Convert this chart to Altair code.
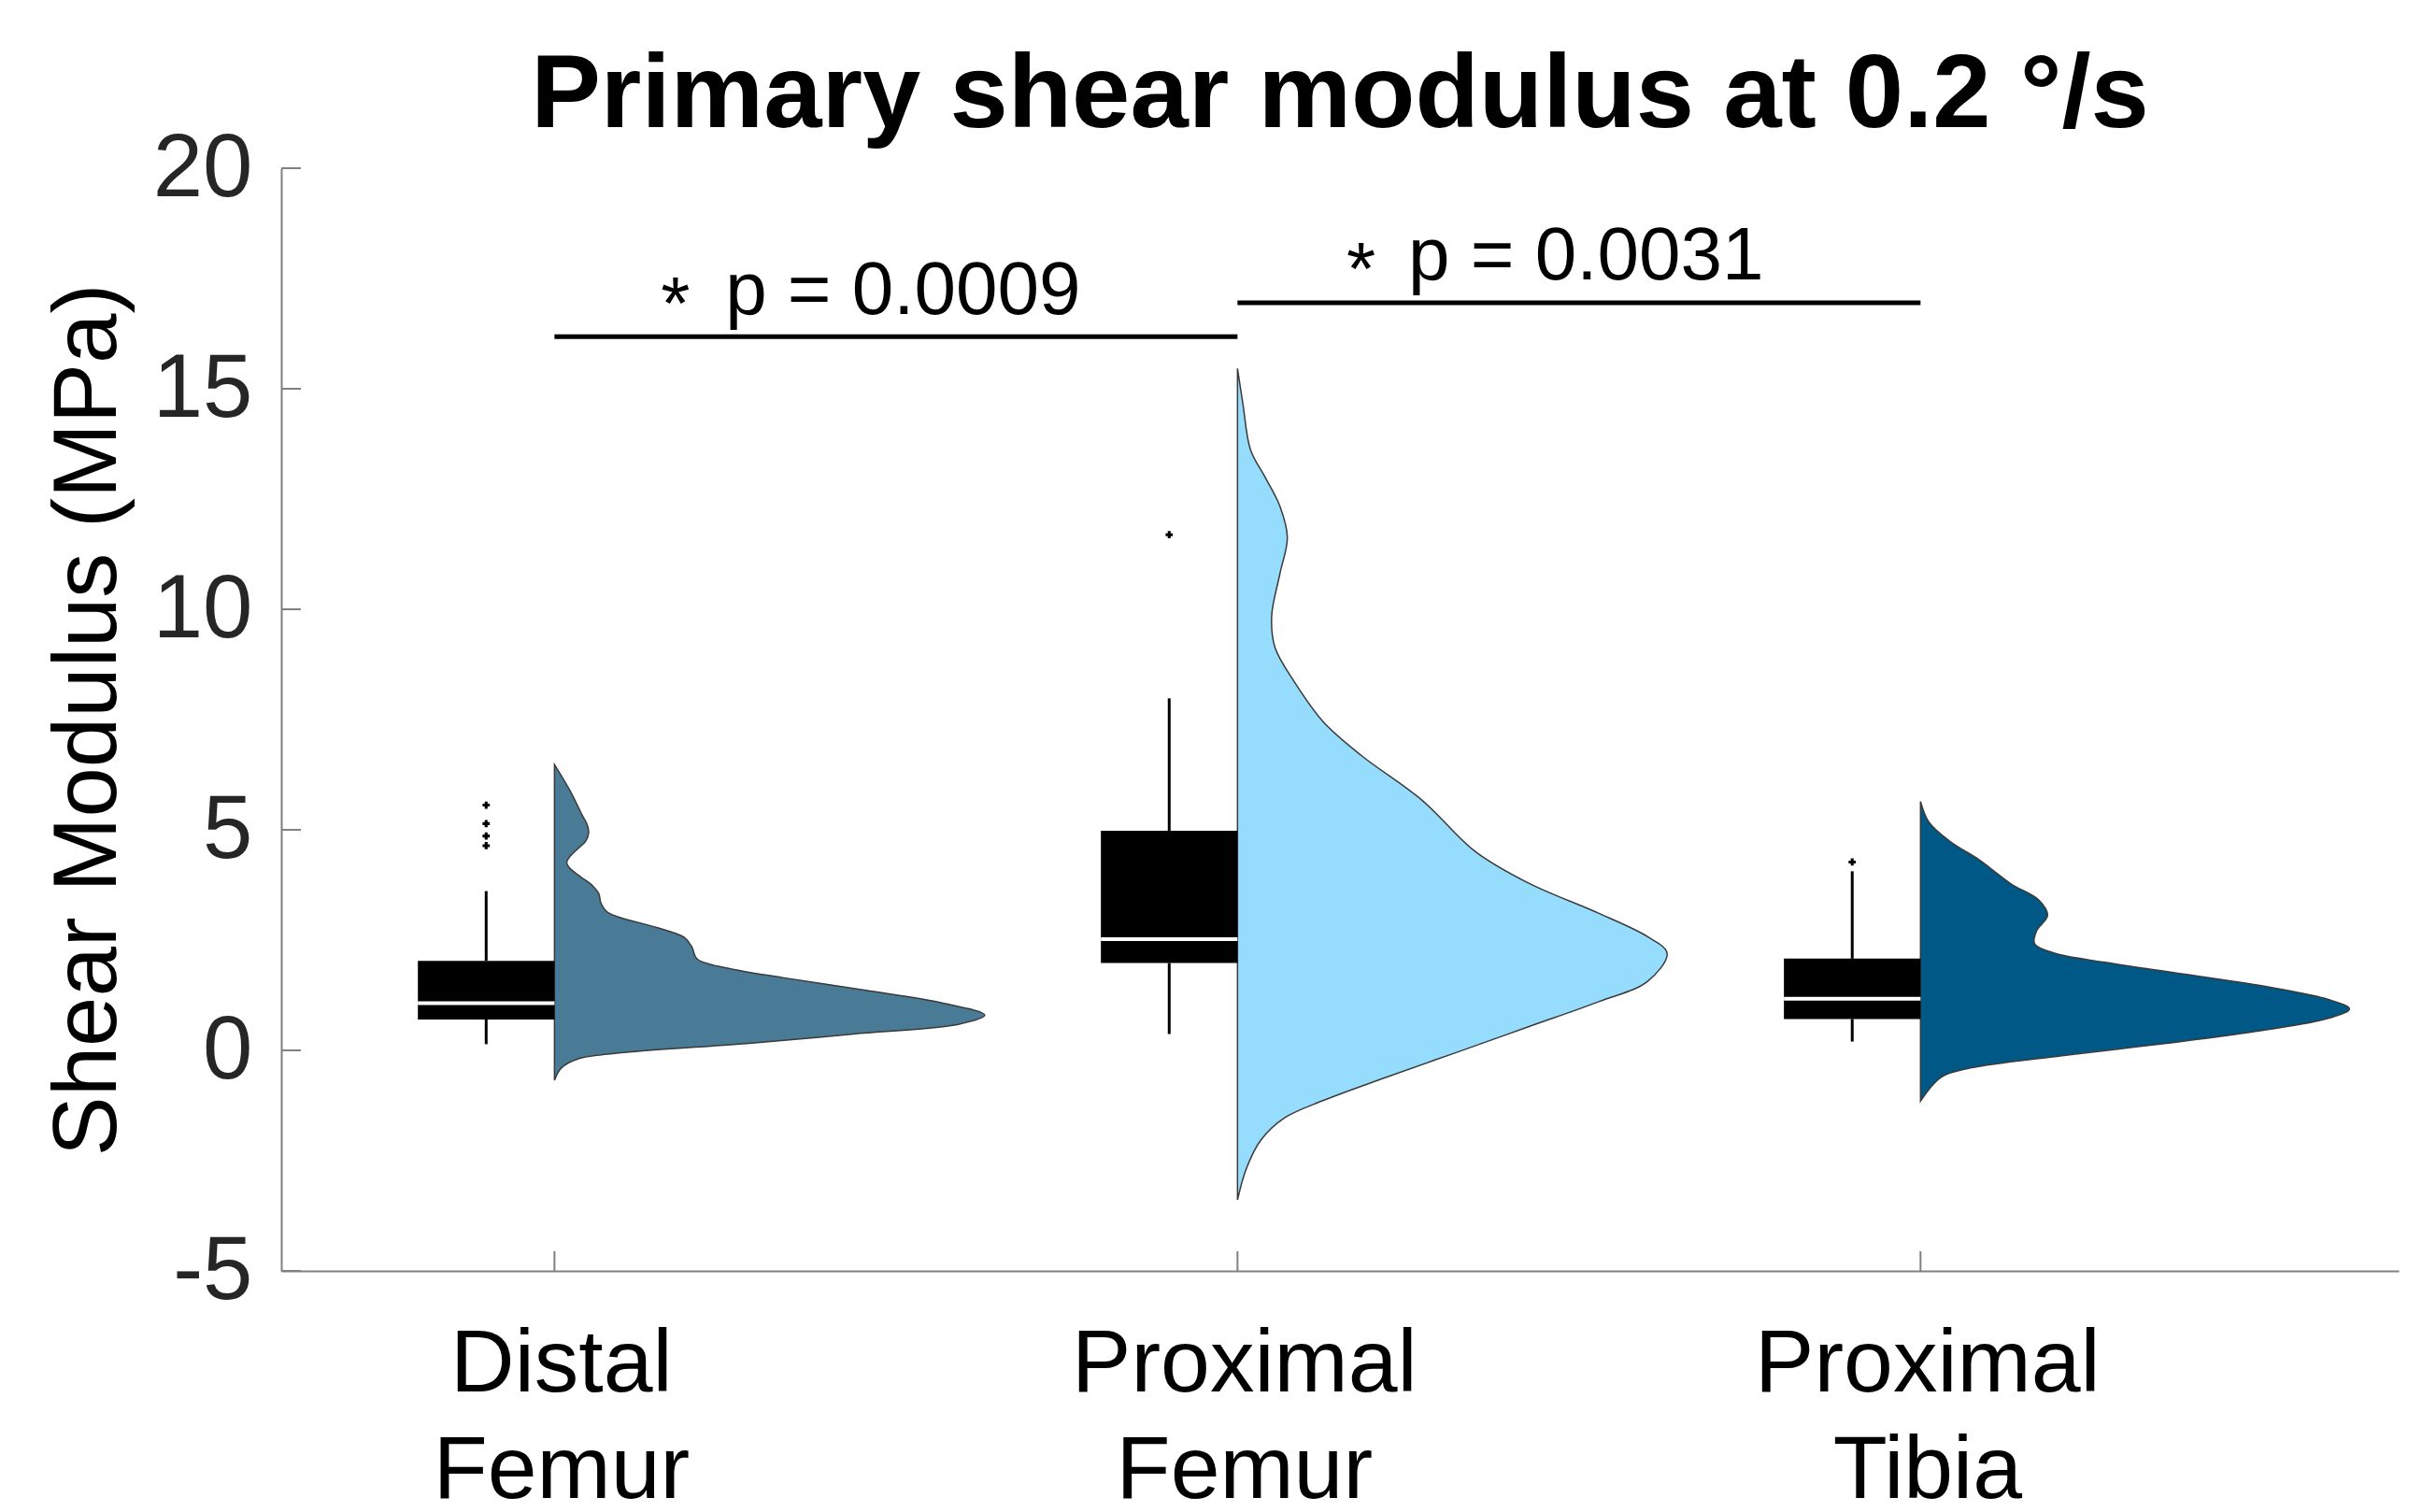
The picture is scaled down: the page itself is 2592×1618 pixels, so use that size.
import altair as alt
import pandas as pd

FONT = "Liberation Sans"

# ---------------- data ----------------
categories = ["Distal Femur", "Proximal Femur", "Proximal Tibia"]
label_lines = [["Distal", "Femur"], ["Proximal", "Femur"], ["Proximal", "Tibia"]]
positions = [1, 2, 3]
violin_colors = ["#4A7B96", "#96DCFD", "#005887"]

q1 = [0.70, 1.98, 0.71]
medians = [1.07, 2.52, 1.17]
q3 = [2.03, 4.98, 2.08]
whisker_low = [0.14, 0.37, 0.20]
whisker_high = [3.61, 7.98, 4.06]

outlier_group = ["Distal Femur", "Distal Femur", "Distal Femur", "Distal Femur",
                 "Proximal Femur", "Proximal Tibia"]
outlier_values = [5.56, 5.14, 4.86, 4.64, 11.69, 4.27]

# half-violin outlines: value (MPa) and density width (in category units)
df_values = [6.48, 5.88, 5.32, 5.11, 4.93, 4.75, 4.58, 4.40, 4.26, 4.12, 3.94, 3.73,
             3.55, 3.34, 3.13, 2.78, 2.56, 2.35, 2.07, 1.86, 1.65, 1.36, 1.08, 0.80,
             0.59, 0.37, 0.16, -0.05, -0.19, -0.40, -0.68]
df_widths = [0.0, 0.023, 0.041, 0.048, 0.050, 0.046, 0.035, 0.023, 0.018, 0.023,
             0.038, 0.056, 0.065, 0.068, 0.078, 0.151, 0.190, 0.201, 0.209, 0.255,
             0.334, 0.456, 0.566, 0.630, 0.591, 0.438, 0.285, 0.102, 0.035, 0.010, 0.0]

pf_values = [15.46, 14.65, 13.62, 12.98, 12.34, 11.63, 10.80, 9.84, 9.13, 8.36, 7.46,
             6.69, 5.66, 4.51, 3.80, 3.10, 2.58, 2.20, 1.56, 1.11, 0.53, -0.05, -0.62,
             -1.14, -1.53, -2.04, -2.68, -3.39]
pf_widths = [0.0, 0.008, 0.019, 0.041, 0.062, 0.073, 0.062, 0.050, 0.055, 0.083,
             0.125, 0.181, 0.271, 0.348, 0.425, 0.530, 0.600, 0.629, 0.600, 0.530,
             0.425, 0.320, 0.216, 0.125, 0.069, 0.034, 0.013, 0.0]

pt_values = [5.64, 5.18, 4.75, 4.33, 4.12, 3.76, 3.41, 3.06, 2.71, 2.42, 2.21, 2.00,
             1.72, 1.43, 1.15, 0.94, 0.73, 0.45, 0.16, -0.12, -0.40, -0.61, -1.15]
pt_widths = [0.0, 0.012, 0.042, 0.085, 0.103, 0.134, 0.173, 0.186, 0.170, 0.167,
             0.195, 0.268, 0.390, 0.512, 0.598, 0.628, 0.598, 0.500, 0.360, 0.207,
             0.073, 0.030, 0.0]

y_ticks = [-5, 0, 5, 10, 15, 20]

sig_from = [1, 2]
sig_to = [2, 3]
sig_level = [16.18, 16.95]
p_labels = ["p = 0.0009", "p = 0.0031"]
p_x = [1.25, 2.25]
p_y = [16.70, 17.48]
star_x = [1.177, 2.181]
star_y = [16.36, 17.14]

# ---------------- tables ----------------
BOX_W = 0.2
rows = []
for g, pos, vals, wids in zip(categories, positions,
                              [df_values, pf_values, pt_values],
                              [df_widths, pf_widths, pt_widths]):
    for v, w in zip(vals, wids):
        rows.append({"group": g, "value": v, "base": pos, "edge": pos + w})
vdf = pd.DataFrame(rows).sort_values(["group", "value"])

box = pd.DataFrame({"group": categories, "pos": positions, "q1": q1, "med": medians,
                    "q3": q3, "lo": whisker_low, "hi": whisker_high})
box["left"] = box["pos"] - BOX_W
box["wx"] = box["pos"] - BOX_W / 2

pos_map = dict(zip(categories, positions))
out = pd.DataFrame({"group": outlier_group, "value": outlier_values})
out["wx"] = out["group"].map(pos_map) - BOX_W / 2

sig = pd.DataFrame({"x1": sig_from, "x2": sig_to, "y": sig_level,
                    "label": p_labels, "px": p_x, "py": p_y, "sx": star_x, "sy": star_y})
yt = pd.DataFrame({"t": y_ticks})
xt = pd.DataFrame({"p": positions})

# ---------------- scales / axes ----------------
W, H = 2266, 1180
xscale = alt.Scale(domain=[0.6, 3.7], nice=False, zero=False)
yscale = alt.Scale(domain=[-5, 20], nice=False, zero=False)

expr = ""
for p, lines in zip(positions, label_lines):
    expr += f"datum.value == {p} ? {lines!r} : "
expr += "''"

x_axis = alt.Axis(title=None, values=positions, labelExpr=expr, tickSize=0, grid=False,
                  labelFont=FONT, labelFontSize=95, labelColor="#000000",
                  labelPadding=53, labelLineHeight=114, labelBaseline="top",
                  labelOffset=7, labelLimit=1000, domainColor="#808080", domainWidth=2)
y_axis = alt.Axis(title="Shear Modulus (MPa)", values=y_ticks, tickSize=0, grid=False,
                  labelExpr="datum.value < 0 ? '-' + abs(datum.value) : '' + datum.value",
                  labelFont=FONT, labelFontSize=96, labelColor="#262626",
                  labelPadding=31, domainColor="#808080", domainWidth=2,
                  titleFont=FONT, titleFontSize=96, titleFontWeight="normal",
                  titleColor="#000000", titleAngle=270, titleX=-178, titleY=H / 2,
                  titleBaseline="alphabetic", titleAlign="center")

X = lambda f: alt.X(f, scale=xscale, axis=x_axis)
Y = lambda f: alt.Y(f, scale=yscale, axis=y_axis)

violins = alt.Chart(vdf).mark_area(
    orient="horizontal", interpolate="catmull-rom", stroke="#3A3A3A", strokeWidth=1.5
).encode(
    y=Y("value:Q"), x=X("base:Q"), x2="edge:Q",
    fill=alt.Fill("group:N", scale=alt.Scale(domain=categories, range=violin_colors),
                  legend=None),
    detail="group:N",
)

boxes = alt.Chart(box).mark_rect(color="#000000").encode(
    x=X("left:Q"), x2="pos:Q", y=Y("q1:Q"), y2="q3:Q")
med = alt.Chart(box).mark_rule(color="#FFFFFF", strokeWidth=4).encode(
    x=X("left:Q"), x2="pos:Q", y=Y("med:Q"))
wh_hi = alt.Chart(box).mark_rule(color="#000000", strokeWidth=3).encode(
    x=X("wx:Q"), y=Y("q3:Q"), y2="hi:Q")
wh_lo = alt.Chart(box).mark_rule(color="#000000", strokeWidth=3).encode(
    x=X("wx:Q"), y=Y("lo:Q"), y2="q1:Q")
outl = alt.Chart(out).mark_point(shape="cross", filled=True, size=60, color="#000000",
                                 opacity=1).encode(x=X("wx:Q"), y=Y("value:Q"))

sig_lines = alt.Chart(sig).mark_rule(color="#000000", strokeWidth=5).encode(
    x=X("x1:Q"), x2="x2:Q", y=Y("y:Q"))
sig_text = alt.Chart(sig).mark_text(align="left", baseline="alphabetic", font=FONT,
                                    fontSize=80, color="#000000").encode(
    x=X("px:Q"), y=Y("py:Q"), text="label:N")
sig_star = alt.Chart(sig).mark_text(align="center", baseline="alphabetic", font=FONT,
                                    fontSize=80, color="#000000", text="*").encode(
    x=X("sx:Q"), y=Y("sy:Q"))

yticks = alt.Chart(yt).mark_rule(color="#808080", strokeWidth=2).encode(
    y=Y("t:Q"), x=alt.value(0), x2=alt.value(21))
xticks = alt.Chart(xt).mark_rule(color="#808080", strokeWidth=2).encode(
    x=X("p:Q"), y=alt.value(H), y2=alt.value(H - 21))

chart = alt.layer(
    violins, boxes, med, wh_hi, wh_lo, outl, sig_lines, sig_text, sig_star, yticks, xticks
).properties(
    width=W, height=H,
    padding={"left": 293, "top": 172, "right": 10, "bottom": 248},
    autosize=alt.AutoSizeParams(type="none"),
    background="#FFFFFF",
    title=alt.TitleParams(text="Primary shear modulus at 0.2 °/s", font=FONT,
                          fontSize=112, fontWeight="bold", color="#000000",
                          anchor="middle", frame="group", baseline="alphabetic",
                          offset=-116),
).configure_view(stroke=None)

chart.save("out.html", embed_options={"renderer": "svg", "actions": False})
